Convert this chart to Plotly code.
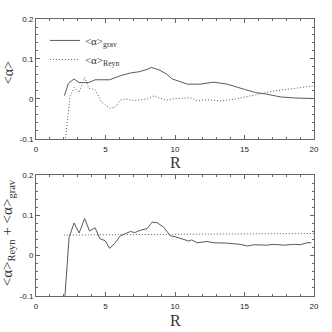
import plotly.graph_objects as go
from plotly.subplots import make_subplots

# top panel: <alpha>_grav and <alpha>_Reyn vs R
r_grav = [2.04, 2.33, 2.74, 3.1, 3.41, 3.8, 4.25, 5.3, 6.06, 6.8, 7.4, 8.0, 8.3, 8.9, 9.4,
          9.8, 10.4, 10.9, 11.8, 12.8, 13.75, 14.2, 15.0, 15.8, 16.6, 17.6, 18.6, 20.0]
a_grav = [0.008, 0.039, 0.05, 0.041, 0.041, 0.041, 0.048, 0.048, 0.058, 0.065, 0.068, 0.074, 0.079, 0.072, 0.062,
          0.05, 0.043, 0.037, 0.037, 0.042, 0.037, 0.033, 0.024, 0.016, 0.012, 0.005, 0.0025, 0.001]

r_reyn = [2.05, 2.45, 2.74, 3.1, 3.5, 3.8, 4.25, 4.7, 5.3, 5.7, 6.06, 6.5, 7.0, 7.5, 8.0, 8.5, 8.9,
          9.4, 9.9, 10.5, 11.1, 11.6, 12.3, 13.3, 14.2, 15.2, 16.2, 17.1, 18.1, 19.0, 20.0]
a_reyn = [-0.12, 0.006, 0.029, 0.016, 0.054, 0.027, 0.023, -0.007, -0.023, -0.021, -0.003, 0.0, -0.004, -0.002, 0.0, 0.008, 0.002,
          -0.003, 0.001, 0.002, 0.003, -0.004, -0.002, -0.005, -0.001, 0.006, 0.014, 0.02, 0.024, 0.028, 0.033]

# bottom panel: sum of both
r_sum = [2.04, 2.38, 2.74, 3.1, 3.5, 3.85, 4.25, 4.6, 4.98, 5.3, 5.7, 6.06, 6.8, 7.1, 7.5, 8.0, 8.35, 8.7,
         9.2, 9.66, 10.0, 10.5, 11.0, 11.2, 11.6, 12.3, 12.8, 13.75, 14.7, 15.2, 15.7, 16.6, 17.1, 17.8,
         18.6, 19.0, 19.5, 19.8]
a_sum = [-0.12, 0.045, 0.081, 0.056, 0.092, 0.061, 0.069, 0.042, 0.037, 0.018, 0.032, 0.049, 0.060, 0.057, 0.063, 0.067, 0.083, 0.082,
         0.07, 0.049, 0.047, 0.042, 0.036, 0.039, 0.032, 0.035, 0.032, 0.031, 0.028, 0.024, 0.027, 0.026, 0.028, 0.026,
         0.028, 0.027, 0.032, 0.032]
r_ref = [2.0, 20.0]
a_ref = [0.051, 0.055]

line_col = '#5a5a5a'
dots = '1px,2px'
fig = make_subplots(rows=2, cols=1)

fig.add_trace(go.Scatter(x=r_grav, y=a_grav, mode='lines', name='&lt;α&gt;<sub>grav</sub>',
                         line=dict(color=line_col, width=1)), row=1, col=1)
fig.add_trace(go.Scatter(x=r_reyn, y=a_reyn, mode='lines', name='&lt;α&gt;<sub>Reyn</sub>',
                         line=dict(color=line_col, width=1, dash=dots)), row=1, col=1)
fig.add_trace(go.Scatter(x=r_sum, y=a_sum, mode='lines', showlegend=False,
                         line=dict(color=line_col, width=1)), row=2, col=1)
fig.add_trace(go.Scatter(x=r_ref, y=a_ref, mode='lines', showlegend=False,
                         line=dict(color=line_col, width=1, dash=dots)), row=2, col=1)

axis_common = dict(showline=True, mirror='allticks', linecolor='#666666', linewidth=1,
                   ticks='inside', ticklen=4, tickcolor='#666666', showgrid=False, zeroline=False,
                   tickfont=dict(family='Liberation Sans, Arial', size=8, color='#222222'))
for row in (1, 2):
    fig.update_xaxes(range=[0, 20], tickvals=[0, 5, 10, 15, 20], ticktext=['0', '5', '10', '15', '20'],
                     minor=dict(dtick=1, ticklen=2, ticks='inside', tickcolor='#666666'),
                     ticklabelstandoff=2, row=row, col=1, **axis_common)
    fig.update_yaxes(range=[-0.1, 0.2], tickvals=[-0.1, 0, 0.1, 0.2], ticktext=['-0.1', '0', '0.1', '0.2'],
                     minor=dict(dtick=0.02, ticklen=2, ticks='inside', tickcolor='#666666'),
                     row=row, col=1, **axis_common)

fig.update_layout(yaxis=dict(domain=[0.567, 1.0]), yaxis2=dict(domain=[0.0, 0.437]))

serif = 'Liberation Serif, Times New Roman, serif'
title_font = dict(family=serif, size=16, color='#333333')
fig.add_annotation(text='R', xref='paper', yref='paper', x=0.5, y=0.482, showarrow=False,
                   xanchor='center', yanchor='middle', font=title_font)
fig.add_annotation(text='R', xref='paper', yref='paper', x=0.5, y=-0.088, showarrow=False,
                   xanchor='center', yanchor='middle', font=title_font)
fig.add_annotation(text='&lt;α&gt;', xref='paper', yref='paper', x=-0.1, y=0.805, showarrow=False,
                   xanchor='center', yanchor='middle', textangle=-90,
                   font=dict(family=serif, size=14, color='#333333'))
fig.add_annotation(text='&lt;α&gt;<sub>Reyn</sub> + &lt;α&gt;<sub>grav</sub>', xref='paper', yref='paper',
                   x=-0.1, y=0.227, showarrow=False, xanchor='center', yanchor='middle', textangle=-90,
                   font=dict(family=serif, size=15, color='#333333'))

fig.update_layout(
    width=332, height=332,
    margin=dict(l=36, r=18, t=19, b=36),
    paper_bgcolor='white', plot_bgcolor='white',
    legend=dict(x=0.032, y=0.975, xanchor='left', yanchor='top', bgcolor='rgba(0,0,0,0)',
                font=dict(family=serif, size=11, color='#333333'), itemwidth=30,
                tracegroupgap=0),
)

# drop the default page margin so the figure sits at the window's corner
fig.write_html("out.html", config={'displayModeBar': False},
               post_script="document.body.style.margin='0';")
